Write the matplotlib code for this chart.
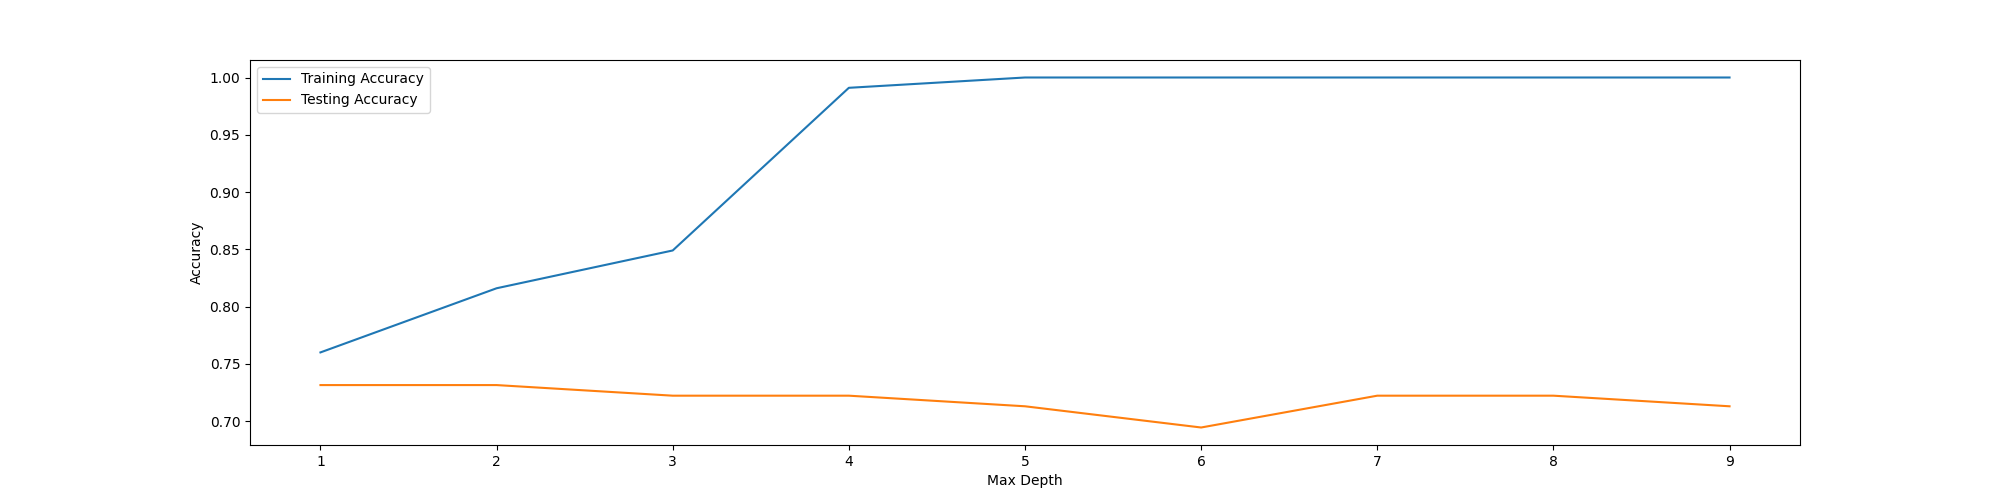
import matplotlib
matplotlib.use("Agg")
import matplotlib.pyplot as plt

max_depth = [1, 2, 3, 4, 5, 6, 7, 8, 9]
train_acc = [0.760, 0.816, 0.849, 0.991, 1.0, 1.0, 1.0, 1.0, 1.0]
test_acc = [79/108, 79/108, 78/108, 78/108, 77/108, 75/108, 78/108, 78/108, 77/108]

fig, ax = plt.subplots(figsize=(20, 5), dpi=100)
ax.plot(max_depth, train_acc, label="Training Accuracy")
ax.plot(max_depth, test_acc, label="Testing Accuracy")
ax.set_xlabel("Max Depth")
ax.set_ylabel("Accuracy")
ax.legend(loc="upper left")
fig.savefig("out.png")
